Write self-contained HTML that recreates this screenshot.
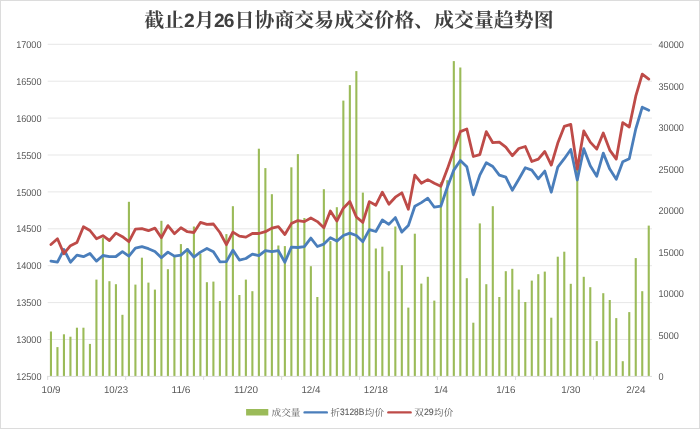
<!DOCTYPE html>
<html lang="zh">
<head>
<meta charset="utf-8">
<title>截止2月26日协商交易成交价格、成交量趋势图</title>
<style>
html,body{margin:0;padding:0;background:#fff;}
body{width:700px;height:429px;overflow:hidden;font-family:"Liberation Sans",sans-serif;}
.chart{position:relative;width:700px;height:429px;box-sizing:border-box;background:#fff;}
.chart svg{position:absolute;left:0;top:0;display:block;will-change:transform;transform:translateZ(0);}
.frame{position:absolute;left:0;top:0;width:700px;height:429px;box-sizing:border-box;border:1px solid #dcdcdc;pointer-events:none;}
</style>
</head>
<body>
<div class="chart">
<svg width="700" height="429" viewBox="0 0 700 429" text-rendering="geometricPrecision">
<g stroke="#e7e7e7" stroke-width="1" shape-rendering="auto">
<line x1="47.7" y1="44.3" x2="652" y2="44.3"/>
<line x1="47.7" y1="81.2" x2="652" y2="81.2"/>
<line x1="47.7" y1="118.1" x2="652" y2="118.1"/>
<line x1="47.7" y1="155" x2="652" y2="155"/>
<line x1="47.7" y1="191.9" x2="652" y2="191.9"/>
<line x1="47.7" y1="228.8" x2="652" y2="228.8"/>
<line x1="47.7" y1="265.7" x2="652" y2="265.7"/>
<line x1="47.7" y1="302.6" x2="652" y2="302.6"/>
<line x1="47.7" y1="339.5" x2="652" y2="339.5"/>
</g>
<defs><filter id="soft" x="-1%" y="-1%" width="102%" height="102%"><feGaussianBlur stdDeviation="0.38 0.2"/></filter></defs>
<g fill="#9bbb59" filter="url(#soft)">
<rect x="49.9" y="331.5" width="2.1" height="44.7"/>
<rect x="56.4" y="347.1" width="2.1" height="29.1"/>
<rect x="62.89" y="334.3" width="2.1" height="41.9"/>
<rect x="69.39" y="336.7" width="2.1" height="39.5"/>
<rect x="75.89" y="327.7" width="2.1" height="48.5"/>
<rect x="82.39" y="327.7" width="2.1" height="48.5"/>
<rect x="88.89" y="343.9" width="2.1" height="32.3"/>
<rect x="95.38" y="279.6" width="2.1" height="96.6"/>
<rect x="101.88" y="238.1" width="2.1" height="138.1"/>
<rect x="108.38" y="281.2" width="2.1" height="95"/>
<rect x="114.88" y="284.2" width="2.1" height="92"/>
<rect x="121.38" y="314.8" width="2.1" height="61.4"/>
<rect x="127.87" y="201.8" width="2.1" height="174.4"/>
<rect x="134.37" y="284.6" width="2.1" height="91.6"/>
<rect x="140.87" y="257.7" width="2.1" height="118.5"/>
<rect x="147.37" y="282.6" width="2.1" height="93.6"/>
<rect x="153.86" y="289.6" width="2.1" height="86.6"/>
<rect x="160.36" y="220.8" width="2.1" height="155.4"/>
<rect x="166.86" y="269.2" width="2.1" height="107"/>
<rect x="173.36" y="255.1" width="2.1" height="121.1"/>
<rect x="179.86" y="244.1" width="2.1" height="132.1"/>
<rect x="186.35" y="248" width="2.1" height="128.2"/>
<rect x="192.85" y="226.5" width="2.1" height="149.7"/>
<rect x="199.35" y="253.7" width="2.1" height="122.5"/>
<rect x="205.85" y="282.2" width="2.1" height="94"/>
<rect x="212.35" y="281.6" width="2.1" height="94.6"/>
<rect x="218.84" y="301" width="2.1" height="75.2"/>
<rect x="225.34" y="234.1" width="2.1" height="142.1"/>
<rect x="231.84" y="206.2" width="2.1" height="170"/>
<rect x="238.34" y="295" width="2.1" height="81.2"/>
<rect x="244.83" y="279.6" width="2.1" height="96.6"/>
<rect x="251.33" y="291.2" width="2.1" height="85"/>
<rect x="257.83" y="148.7" width="2.1" height="227.5"/>
<rect x="264.33" y="168.1" width="2.1" height="208.1"/>
<rect x="270.83" y="194.2" width="2.1" height="182"/>
<rect x="277.32" y="245.5" width="2.1" height="130.7"/>
<rect x="283.82" y="246.1" width="2.1" height="130.1"/>
<rect x="290.32" y="167.3" width="2.1" height="208.9"/>
<rect x="296.82" y="154.1" width="2.1" height="222.1"/>
<rect x="303.32" y="218" width="2.1" height="158.2"/>
<rect x="309.81" y="266.2" width="2.1" height="110"/>
<rect x="316.31" y="297" width="2.1" height="79.2"/>
<rect x="322.81" y="189.2" width="2.1" height="187"/>
<rect x="329.31" y="241.1" width="2.1" height="135.1"/>
<rect x="335.8" y="207.2" width="2.1" height="169"/>
<rect x="342.3" y="100.6" width="2.1" height="275.6"/>
<rect x="348.8" y="85.1" width="2.1" height="291.1"/>
<rect x="355.3" y="71.1" width="2.1" height="305.1"/>
<rect x="361.8" y="192.6" width="2.1" height="183.6"/>
<rect x="368.29" y="203.8" width="2.1" height="172.4"/>
<rect x="374.79" y="248.5" width="2.1" height="127.7"/>
<rect x="381.29" y="246.7" width="2.1" height="129.5"/>
<rect x="387.79" y="271.2" width="2.1" height="105"/>
<rect x="394.28" y="226.5" width="2.1" height="149.7"/>
<rect x="400.78" y="265.2" width="2.1" height="111"/>
<rect x="407.28" y="307.6" width="2.1" height="68.6"/>
<rect x="413.78" y="233.7" width="2.1" height="142.5"/>
<rect x="420.28" y="283.6" width="2.1" height="92.6"/>
<rect x="426.77" y="276.8" width="2.1" height="99.4"/>
<rect x="433.27" y="300.6" width="2.1" height="75.6"/>
<rect x="439.77" y="182.2" width="2.1" height="194"/>
<rect x="446.27" y="180.2" width="2.1" height="196"/>
<rect x="452.77" y="61.1" width="2.1" height="315.1"/>
<rect x="459.26" y="67.5" width="2.1" height="308.7"/>
<rect x="465.76" y="278.2" width="2.1" height="98"/>
<rect x="472.26" y="322.7" width="2.1" height="53.5"/>
<rect x="478.76" y="223.4" width="2.1" height="152.8"/>
<rect x="485.25" y="284.2" width="2.1" height="92"/>
<rect x="491.75" y="206.2" width="2.1" height="170"/>
<rect x="498.25" y="297" width="2.1" height="79.2"/>
<rect x="504.75" y="271.2" width="2.1" height="105"/>
<rect x="511.25" y="268.8" width="2.1" height="107.4"/>
<rect x="517.74" y="289.6" width="2.1" height="86.6"/>
<rect x="524.24" y="302" width="2.1" height="74.2"/>
<rect x="530.74" y="280.6" width="2.1" height="95.6"/>
<rect x="537.24" y="274.2" width="2.1" height="102"/>
<rect x="543.74" y="271.6" width="2.1" height="104.6"/>
<rect x="550.23" y="317.7" width="2.1" height="58.5"/>
<rect x="556.73" y="256.7" width="2.1" height="119.5"/>
<rect x="563.23" y="251.7" width="2.1" height="124.5"/>
<rect x="569.73" y="283.8" width="2.1" height="92.4"/>
<rect x="576.22" y="168" width="2.1" height="208.2"/>
<rect x="582.72" y="276.8" width="2.1" height="99.4"/>
<rect x="589.22" y="287.2" width="2.1" height="89"/>
<rect x="595.72" y="341.1" width="2.1" height="35.1"/>
<rect x="602.22" y="293.2" width="2.1" height="83"/>
<rect x="608.71" y="300" width="2.1" height="76.2"/>
<rect x="615.21" y="318.1" width="2.1" height="58.1"/>
<rect x="621.71" y="361.2" width="2.1" height="15"/>
<rect x="628.21" y="312.1" width="2.1" height="64.1"/>
<rect x="634.71" y="258.1" width="2.1" height="118.1"/>
<rect x="641.2" y="291.2" width="2.1" height="85"/>
<rect x="647.7" y="225.6" width="2.1" height="150.6"/>
</g>
<g stroke="#dcdcdc" stroke-width="1">
<line x1="47.7" y1="376.4" x2="652" y2="376.4"/>
<line x1="47.7" y1="375.9" x2="47.7" y2="380"/>
<line x1="125.67" y1="375.9" x2="125.67" y2="380"/>
<line x1="203.65" y1="375.9" x2="203.65" y2="380"/>
<line x1="281.62" y1="375.9" x2="281.62" y2="380"/>
<line x1="359.6" y1="375.9" x2="359.6" y2="380"/>
<line x1="437.57" y1="375.9" x2="437.57" y2="380"/>
<line x1="515.55" y1="375.9" x2="515.55" y2="380"/>
<line x1="593.52" y1="375.9" x2="593.52" y2="380"/>
</g>
<polyline points="50.95,261.1 57.45,262.2 63.94,249.5 70.44,262.2 76.94,255.1 83.44,256.7 89.94,253.5 96.43,261.1 102.93,255.5 109.43,256.7 115.93,256.5 122.43,251.7 128.92,256.1 135.42,248.1 141.92,246.7 148.42,248.7 154.91,251.5 161.41,257.7 167.91,252.1 174.41,256.1 180.91,255.1 187.4,249.5 193.9,257.1 200.4,252.1 206.9,248.5 213.4,251.7 219.89,261.8 226.39,261.6 232.89,250.1 239.39,260.1 245.88,258.5 252.38,254.1 258.88,255.7 265.38,250.7 271.88,251.7 278.37,250.7 284.87,262.2 291.37,247.1 297.87,247.5 304.37,246.7 310.86,238.1 317.36,246.5 323.86,244.1 330.36,237.7 336.85,241.1 343.35,235.5 349.85,233.1 356.35,235.5 362.85,241.7 369.34,229.7 375.84,231.5 382.34,220 388.84,224.4 395.33,217.6 401.83,232.1 408.33,225.6 414.83,206.2 421.33,202.6 427.82,198.2 434.32,207.2 440.82,206.2 447.32,187.2 453.82,170.1 460.31,160.5 466.81,166.8 473.31,194.8 479.81,175.1 486.3,162.7 492.8,166.5 499.3,175.1 505.8,177.2 512.3,190.2 518.79,179.2 525.29,167.7 531.79,170.1 538.29,178.8 544.79,171.1 551.28,192.2 557.78,167.1 564.28,158.7 570.78,149.5 577.27,180 583.77,148.7 590.27,165.7 596.77,176.2 603.27,153.1 609.76,169.1 616.26,179.2 622.76,161.7 629.26,158.7 635.76,129 642.25,107.2 648.75,110.2" fill="none" stroke="#4a7ebb" stroke-width="2.8" stroke-linejoin="round" stroke-linecap="round"/>
<polyline points="50.95,244.5 57.45,238.7 63.94,253.7 70.44,245.7 76.94,242.5 83.44,226.7 89.94,230.5 96.43,238.7 102.93,235.7 109.43,240.5 115.93,233.1 122.43,236.7 128.92,241.7 135.42,229.1 141.92,228.7 148.42,230.7 154.91,228.1 161.41,237.7 167.91,225.6 174.41,233.7 180.91,227.7 187.4,231.7 193.9,232.5 200.4,222.4 206.9,224.4 213.4,224 219.89,232.5 226.39,244.7 232.89,232.1 239.39,236.1 245.88,237.1 252.38,233.5 258.88,233.5 265.38,231.7 271.88,228.1 278.37,226.7 284.87,234.5 291.37,223.6 297.87,220.6 304.37,221.6 310.86,218 317.36,221.6 323.86,227.7 330.36,211 336.85,221 343.35,208.2 349.85,201.6 356.35,217 362.85,222.4 369.34,201.6 375.84,205.2 382.34,192.2 388.84,204.2 395.33,197.2 401.83,192.8 408.33,209.2 414.83,175.1 421.33,183.2 427.82,179.6 434.32,183.2 440.82,186.2 447.32,169.1 453.82,150.5 460.31,131.6 466.81,129 473.31,156.5 479.81,154.7 486.3,131.6 492.8,142.7 499.3,142.1 505.8,147.1 512.3,155.7 518.79,148.5 525.29,146.5 531.79,161.5 538.29,159.1 544.79,151.5 551.28,165.1 557.78,143.1 564.28,126.4 570.78,124.4 577.27,169 583.77,131 590.27,142.1 596.77,149.1 603.27,133 609.76,150.1 616.26,159.1 622.76,122.6 629.26,127 635.76,96.2 642.25,74.1 648.75,79.1" fill="none" stroke="#be4b48" stroke-width="2.8" stroke-linejoin="round" stroke-linecap="round"/>
<g font-family="'Liberation Sans', sans-serif" font-size="9.8" fill="#595959">
<text x="41.5" y="47.95" text-anchor="end" textLength="25.35" lengthAdjust="spacingAndGlyphs">17000</text>
<text x="41.5" y="84.85" text-anchor="end" textLength="25.35" lengthAdjust="spacingAndGlyphs">16500</text>
<text x="41.5" y="121.75" text-anchor="end" textLength="25.35" lengthAdjust="spacingAndGlyphs">16000</text>
<text x="41.5" y="158.65" text-anchor="end" textLength="25.35" lengthAdjust="spacingAndGlyphs">15500</text>
<text x="41.5" y="195.55" text-anchor="end" textLength="25.35" lengthAdjust="spacingAndGlyphs">15000</text>
<text x="41.5" y="232.45" text-anchor="end" textLength="25.35" lengthAdjust="spacingAndGlyphs">14500</text>
<text x="41.5" y="269.35" text-anchor="end" textLength="25.35" lengthAdjust="spacingAndGlyphs">14000</text>
<text x="41.5" y="306.25" text-anchor="end" textLength="25.35" lengthAdjust="spacingAndGlyphs">13500</text>
<text x="41.5" y="343.15" text-anchor="end" textLength="25.35" lengthAdjust="spacingAndGlyphs">13000</text>
<text x="41.5" y="380.05" text-anchor="end" textLength="25.35" lengthAdjust="spacingAndGlyphs">12500</text>
<text x="658.5" y="48.2" textLength="25.35" lengthAdjust="spacingAndGlyphs">40000</text>
<text x="658.5" y="89.71" textLength="25.35" lengthAdjust="spacingAndGlyphs">35000</text>
<text x="658.5" y="131.22" textLength="25.35" lengthAdjust="spacingAndGlyphs">30000</text>
<text x="658.5" y="172.74" textLength="25.35" lengthAdjust="spacingAndGlyphs">25000</text>
<text x="658.5" y="214.25" textLength="25.35" lengthAdjust="spacingAndGlyphs">20000</text>
<text x="658.5" y="255.76" textLength="25.35" lengthAdjust="spacingAndGlyphs">15000</text>
<text x="658.5" y="297.27" textLength="25.35" lengthAdjust="spacingAndGlyphs">10000</text>
<text x="658.5" y="338.79" textLength="20.28" lengthAdjust="spacingAndGlyphs">5000</text>
<text x="658.5" y="380.3" textLength="5.07" lengthAdjust="spacingAndGlyphs">0</text>
<text x="51.05" y="392.6" text-anchor="middle" textLength="19.07" lengthAdjust="spacingAndGlyphs">10/9</text>
<text x="116.03" y="392.6" text-anchor="middle" textLength="24.14" lengthAdjust="spacingAndGlyphs">10/23</text>
<text x="181.01" y="392.6" text-anchor="middle" textLength="19.07" lengthAdjust="spacingAndGlyphs">11/6</text>
<text x="245.98" y="392.6" text-anchor="middle" textLength="24.14" lengthAdjust="spacingAndGlyphs">11/20</text>
<text x="310.96" y="392.6" text-anchor="middle" textLength="19.07" lengthAdjust="spacingAndGlyphs">12/4</text>
<text x="375.94" y="392.6" text-anchor="middle" textLength="24.14" lengthAdjust="spacingAndGlyphs">12/18</text>
<text x="440.92" y="392.6" text-anchor="middle" textLength="14" lengthAdjust="spacingAndGlyphs">1/4</text>
<text x="505.9" y="392.6" text-anchor="middle" textLength="19.07" lengthAdjust="spacingAndGlyphs">1/16</text>
<text x="570.88" y="392.6" text-anchor="middle" textLength="19.07" lengthAdjust="spacingAndGlyphs">1/30</text>
<text x="635.86" y="392.6" text-anchor="middle" textLength="19.07" lengthAdjust="spacingAndGlyphs">2/24</text>
</g>
<g aria-label="截止2月26日协商交易成交价格、成交量趋势图">
<text x="144.2" y="27.4" textLength="39.9" lengthAdjust="spacing" font-family="'Liberation Serif', 'Noto Serif CJK SC', serif" font-weight="700" font-size="19.9" fill="#404040">截止</text>
<text x="189.41" y="27.4" text-anchor="middle" font-family="'Liberation Sans', sans-serif" font-weight="700" font-size="19.2" fill="#404040">2</text>
<text x="194.5" y="27.4" font-family="'Liberation Serif', 'Noto Serif CJK SC', serif" font-weight="700" font-size="19.9" fill="#404040">月</text>
<text x="224.18" y="27.4" text-anchor="middle" textLength="20.5" lengthAdjust="spacing" font-family="'Liberation Sans', sans-serif" font-weight="700" font-size="19.2" fill="#404040">26</text>
<text x="234.5" y="27.4" textLength="319.2" lengthAdjust="spacing" font-family="'Liberation Serif', 'Noto Serif CJK SC', serif" font-weight="700" font-size="19.9" fill="#404040">日协商交易成交价格、成交量趋势图</text>
</g>
<rect x="246.1" y="409" width="22.2" height="6.5" fill="#9bbb59"/>
<text x="271.6" y="415.7" textLength="28.8" lengthAdjust="spacing" font-family="'Liberation Serif', 'Noto Serif CJK SC', serif" font-size="9.6" fill="#595959">成交量</text>
<line x1="304.6" y1="412.4" x2="326.8" y2="412.4" stroke="#4a7ebb" stroke-width="2.4" stroke-linecap="round"/>
<text x="330.4" y="415.7" font-family="'Liberation Serif', 'Noto Serif CJK SC', serif" font-size="9.6" fill="#595959">折</text>
<text x="340.1" y="415.4" textLength="24.2" lengthAdjust="spacingAndGlyphs" font-family="'Liberation Sans', sans-serif" font-size="9.4" fill="#595959" stroke="#595959" stroke-width="0.12">3128B</text>
<text x="364.8" y="415.7" textLength="19.2" lengthAdjust="spacing" font-family="'Liberation Serif', 'Noto Serif CJK SC', serif" font-size="9.6" fill="#595959">均价</text>
<line x1="388.4" y1="412.4" x2="410.6" y2="412.4" stroke="#be4b48" stroke-width="2.4" stroke-linecap="round"/>
<text x="414.3" y="415.7" font-family="'Liberation Serif', 'Noto Serif CJK SC', serif" font-size="9.6" fill="#595959">双</text>
<text x="423.9" y="415.4" textLength="9.7" lengthAdjust="spacingAndGlyphs" font-family="'Liberation Sans', sans-serif" font-size="9.4" fill="#595959" stroke="#595959" stroke-width="0.12">29</text>
<text x="434.1" y="415.7" textLength="19.2" lengthAdjust="spacing" font-family="'Liberation Serif', 'Noto Serif CJK SC', serif" font-size="9.6" fill="#595959">均价</text>
</svg>
<div class="frame"></div>
</div>
</body>
</html>
